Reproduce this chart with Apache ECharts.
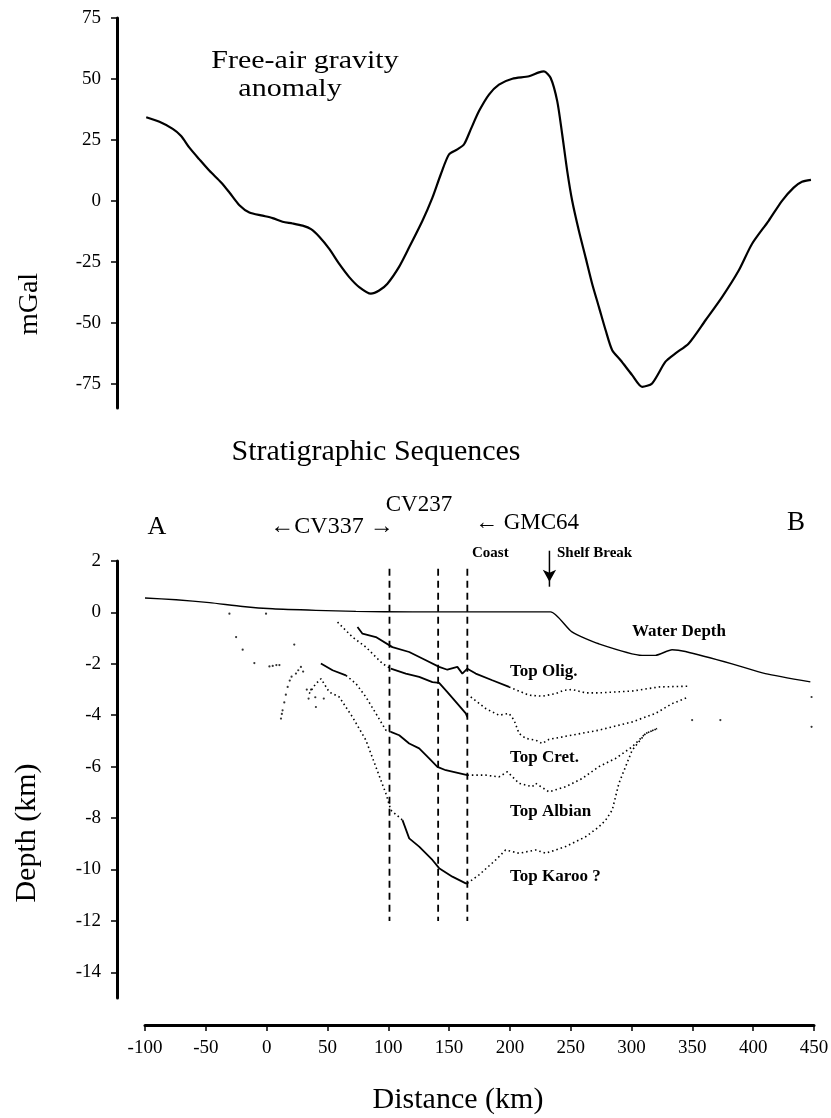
<!DOCTYPE html>
<html>
<head>
<meta charset="utf-8">
<script src="https://cdn.jsdelivr.net/npm/echarts@6/dist/echarts.min.js"></script>
<style>
  html, body { margin: 0; padding: 0; background: #fff; }
  #chart { width: 831px; height: 1118px; }
</style>
</head>
<body>
<div id="chart"></div>
<script>
// free-air gravity profile (km, mGal)
var gravityKm = [-99, -88.1, -77.2, -70.3, -63.5, -55.3, -47, -37.4, -30.6, -22.4, -14.2, -3.3, 4.9, 13.1, 21.3, 29.6, 36.5,
    43.3, 51.5, 59.7, 67.9, 76.1, 85.7, 92.5, 99.3, 109, 117.2, 128.1, 136.3, 143.2, 150, 156.8, 162.3, 167.8, 174.6,
    182.8, 191, 202, 215.7, 223.9, 228, 233.5, 238.9, 243, 247.1, 251.2, 256.7, 262.2, 267.6, 273.2, 278.7, 284.1,
    291, 300.5, 308.7, 316.9, 327.9, 336.1, 347, 360.8, 374.4, 388.1, 399, 412.7, 423.7, 433.3, 440.1, 447.5];
var gravityMgal = [34.3, 32.4, 29.5, 26.6, 21.8, 17.0, 12.3, 7.5, 3.4, -1.8, -4.8, -6.1, -7.1, -8.6, -9.3, -10.2, -11.6,
    -14.7, -19.7, -25.9, -31.3, -35.4, -38.1, -36.8, -34.0, -27.0, -19.1, -8.2, 1.3, 10.9, 19.1, 21.1, 23.2, 29.3, 36.8,
    43.6, 47.7, 50.1, 51.1, 52.7, 53.1, 50.4, 40.9, 27.2, 12.3, 0, -12.3, -23.2, -34.0, -43.6, -53.1, -61.3,
    -65.4, -71.5, -76.3, -74.9, -66.0, -62.6, -58.5, -49.0, -39.5, -28.6, -17.7, -8.2, 0, 5.4, 7.8, 8.6];

// water depth (km, km)
var waterKm = [-100, -74.4, -47, -19.7, 4.9, 40.5, 73.4, 120, 180, 233.5, 251, 273, 308.7, 319.7, 333.3, 344.3, 382.6, 410, 447];
var waterDepth = [0.56, 0.49, 0.38, 0.23, 0.14, 0.08, 0.04, 0.02, 0.02, 0.02, -0.76, -1.22, -1.67, -1.67, -1.45, -1.52, -2.0, -2.38, -2.7];

// horizons: solid (picked) and dotted (interpolated) parts, [km, depth km]
var topOligSolid = [[74.7, -0.57], [78.8, -0.83], [89.8, -0.96], [103.4, -1.35], [117.2, -1.54], [130.9, -1.86],
    [141.8, -2.12], [148.6, -2.23], [156.8, -2.12], [160.9, -2.38], [165, -2.19], [171.9, -2.38], [185.5, -2.64], [199.3, -2.9]];
var topOligDotted = [[199.3, -2.9], [215.7, -3.22], [226.6, -3.26], [237.6, -3.16], [244.4, -3.03], [251.2, -3.0],
    [262.2, -3.13], [273.2, -3.13], [300.5, -3.06], [322.4, -2.9], [347, -2.87]];

var topCretDotted1 = [[58.3, -0.38], [70.6, -0.96], [81.6, -1.35], [95.2, -1.99], [102.1, -2.19]];
var topCretSolid = [[102.1, -2.19], [114.4, -2.38], [125.4, -2.51], [136.3, -2.71], [141.8, -2.74], [148.6, -3.1],
    [156.8, -3.55], [163.7, -3.93], [165, -4.07]];
var topCretDotted2 = [[167.8, -3.29], [180.1, -3.74], [191, -4.0], [199.3, -3.93], [203.4, -4.19], [207.5, -4.71],
    [213, -4.9], [221.2, -4.97], [226.6, -5.1], [232.1, -4.94], [245.8, -4.82], [273.2, -4.58], [300.5, -4.26],
    [319.7, -3.93], [333.3, -3.55], [347, -3.29]];

var topAlbianSolid1 = [[44.6, -1.99], [54.2, -2.25], [65.2, -2.45]];
var topAlbianDotted1 = [[65.2, -2.45], [73.4, -2.77], [81.6, -3.29], [89.8, -3.93], [98, -4.58], [102.1, -4.65]];
var topAlbianSolid2 = [[102.1, -4.65], [109, -4.78], [117.2, -5.1], [125.4, -5.29], [133.6, -5.68], [140.4, -6.01],
    [147.3, -6.14], [165, -6.33]];
var topAlbianDotted2 = [[165, -6.33], [180, -6.33], [191, -6.4], [197.9, -6.2], [207.5, -6.65], [218.4, -6.78],
    [221.2, -6.65], [232.1, -6.98], [245.8, -6.78], [259.4, -6.46], [273.2, -6.0], [286.9, -5.68], [300.5, -5.23],
    [311.5, -4.71], [321, -4.52]];

var topKarooDotted1 = [[35, -3.16], [40, -2.8], [44.7, -2.58], [51.5, -3.1], [59.7, -3.29], [70.6, -4.07], [81.6, -4.97],
    [89.8, -6.01], [98, -7.04], [102.1, -7.69], [111.7, -8.08]];
var topKarooSolid = [[111.7, -8.08], [117.2, -8.79], [125.4, -9.11], [136.3, -9.63], [141.8, -9.95], [152.7, -10.28],
    [163.7, -10.54], [165, -10.54]];
var topKarooDotted2 = [[165, -10.54], [174.6, -10.21], [188.3, -9.63], [196.5, -9.24], [207.5, -9.37], [221.2, -9.24],
    [229.4, -9.37], [245.8, -9.11], [262.2, -8.73], [273.2, -8.34], [278.7, -8.08], [284.1, -7.69], [289.6, -6.65],
    [295.1, -6.0], [300.5, -5.36], [311.5, -4.71], [321, -4.52]];

// scattered picks
var strayPicks = [[-30.6, -0.05], [-0.5, -0.05], [-25.1, -0.96], [-19.7, -1.45], [-10.1, -1.97], [2.3, -2.1], [5, -2.08],
    [8, -2.05], [10.5, -2.05], [22.7, -1.25], [11.8, -4.13], [12.5, -3.95], [13.1, -3.81], [14.5, -3.5], [15.8, -3.2],
    [17.3, -2.9], [19, -2.65], [20.5, -2.5], [24.1, -2.38], [26, -2.25], [28.2, -2.12], [30, -2.3],
    [33, -3.0], [34.5, -3.35], [36.5, -3.0], [40.5, -3.68], [40, -3.3], [47, -3.35],
    [349.8, -4.19], [373, -4.19], [448, -3.29], [448, -4.45]];

// well ties and coastline (km)
var wellKm = [101, 141, 165];
var wellTop = 1.7;
var wellBottom = -12;
var shelfBreakKm = 232.5;
var shelfArrowTop = 2.4;
var shelfArrowTip = 1.0;

var gravityTicks = [-75, -50, -25, 0, 25, 50, 75];
var depthTicks = [-14, -12, -10, -8, -6, -4, -2, 0, 2];

var serif = '"Liberation Serif", "Times New Roman", serif';

function zip(xs, ys) {
    var out = [];
    for (var i = 0; i < xs.length; i++) {
        out.push([xs[i], ys[i]]);
    }
    return out;
}

function horizon(data, dotted) {
    return {
        type: 'line', xAxisIndex: 1, yAxisIndex: 1, data: data,
        symbol: 'none', silent: true,
        lineStyle: dotted ? {color: '#000', width: 1.6, type: [1.5, 3]} : {color: '#000', width: 1.8}
    };
}

var series = [
    {
        type: 'line', xAxisIndex: 0, yAxisIndex: 0,
        data: zip(gravityKm, gravityMgal), symbol: 'none', smooth: 0.25,
        lineStyle: {color: '#000', width: 2.2}
    },
    {
        type: 'line', xAxisIndex: 1, yAxisIndex: 1,
        data: zip(waterKm, waterDepth), symbol: 'none', smooth: 0.2,
        lineStyle: {color: '#000', width: 1.4}
    },
    horizon(topOligSolid, false), horizon(topOligDotted, true),
    horizon(topCretDotted1, true), horizon(topCretSolid, false), horizon(topCretDotted2, true),
    horizon(topAlbianSolid1, false), horizon(topAlbianDotted1, true),
    horizon(topAlbianSolid2, false), horizon(topAlbianDotted2, true),
    horizon(topKarooDotted1, true), horizon(topKarooSolid, false), horizon(topKarooDotted2, true),
    {
        type: 'scatter', xAxisIndex: 1, yAxisIndex: 1, data: strayPicks,
        symbolSize: 2.2, itemStyle: {color: '#000'}, silent: true
    }
];

wellKm.forEach(function (km) {
    series.push({
        type: 'line', xAxisIndex: 1, yAxisIndex: 1,
        data: [[km, wellTop], [km, wellBottom]], symbol: 'none',
        lineStyle: {color: '#000', width: 1.8, type: [7, 5]}
    });
});

// shelf break arrow
series.push({
    type: 'line', xAxisIndex: 1, yAxisIndex: 1, clip: false, silent: true,
    showSymbol: true, symbol: 'none',
    data: [
        [shelfBreakKm, shelfArrowTop],
        {value: [shelfBreakKm, shelfArrowTip], symbol: 'arrow', symbolSize: [10, 12], symbolRotate: 180, symbolOffset: [0, -5]}
    ],
    itemStyle: {color: '#000'},
    lineStyle: {color: '#000', width: 1.5}
});

function yAxisFor(grid, min, max, ticks) {
    return {
        type: 'value', gridIndex: grid, min: min, max: max, offset: 28,
        axisLine: {show: true, onZero: false, lineStyle: {color: '#000', width: 3}},
        axisTick: {show: true, inside: false, length: 6, customValues: ticks, lineStyle: {color: '#000', width: 1.5}},
        axisLabel: {customValues: ticks, margin: 16, color: '#000', fontFamily: serif, fontSize: 19},
        splitLine: {show: false}
    };
}

function text(str, x, y, size, opts) {
    opts = opts || {};
    return {
        type: 'text', x: x, y: y, rotation: opts.rotation || 0, scaleX: opts.scaleX || 1,
        style: {
            text: str, fill: '#000', fontFamily: serif, fontSize: size,
            fontWeight: opts.bold ? 'bold' : 'normal',
            textAlign: opts.align || 'center', textVerticalAlign: 'middle'
        }
    };
}

var option = {
    backgroundColor: '#fff',
    animation: false,
    grid: [
        {left: 145, right: 17, top: 18, height: 390, outerBoundsMode: 'none'},
        {left: 145, right: 17, top: 561, height: 437, outerBoundsMode: 'none'}
    ],
    xAxis: [
        {type: 'value', gridIndex: 0, min: -100, max: 450, show: false},
        {
            type: 'value', gridIndex: 1, min: -100, max: 450, interval: 50, offset: 27, position: 'bottom',
            axisLine: {show: true, onZero: false, lineStyle: {color: '#000', width: 3}},
            axisTick: {show: true, inside: false, length: 6, lineStyle: {color: '#000', width: 1.5}},
            axisLabel: {margin: 14, color: '#000', fontFamily: serif, fontSize: 19, showMinLabel: true, showMaxLabel: true},
            splitLine: {show: false}
        }
    ],
    yAxis: [
        yAxisFor(0, -85, 75, gravityTicks),
        yAxisFor(1, -15, 2, depthTicks)
    ],
    graphic: [
        text('Free-air gravity', 305, 61, 25, {scaleX: 1.2}),
        text('anomaly', 290, 89, 25, {scaleX: 1.2}),
        text('mGal', 30, 304, 28, {rotation: Math.PI / 2}),
        text('Stratigraphic Sequences', 376, 452, 30),
        text('A', 157, 527, 26),
        text('\u2190CV337 \u2192', 332, 527, 24),
        text('CV237', 419, 505, 23),
        text('\u2190 GMC64', 527, 523, 23),
        text('B', 796, 523, 27),
        text('Coast', 472, 553, 15, {bold: true, align: 'left'}),
        text('Shelf Break', 557, 553, 15, {bold: true, align: 'left'}),
        text('Water Depth', 632, 632, 17, {bold: true, align: 'left'}),
        text('Top Olig.', 510, 672, 17, {bold: true, align: 'left'}),
        text('Top Cret.', 510, 758, 17, {bold: true, align: 'left'}),
        text('Top Albian', 510, 812, 17, {bold: true, align: 'left'}),
        text('Top Karoo ?', 510, 877, 17, {bold: true, align: 'left'}),
        text('Depth (km)', 27, 833, 30, {rotation: Math.PI / 2}),
        text('Distance (km)', 458, 1100, 30)
    ],
    series: series
};

var chart = echarts.init(document.getElementById('chart'));
chart.setOption(option);
</script>
</body>
</html>
